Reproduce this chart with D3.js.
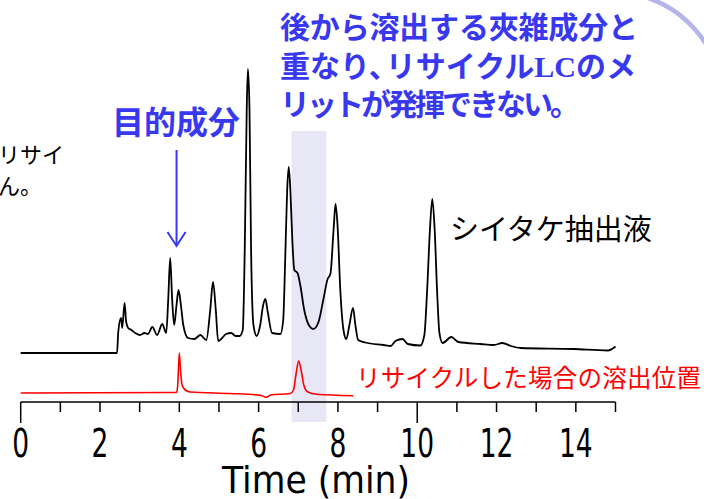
<!DOCTYPE html>
<html>
<head>
<meta charset="utf-8">
<script src="https://cdn.jsdelivr.net/npm/d3@7"></script>
<style>
  body { margin: 0; background: #fff; }
  svg { display: block; }
  .jp { font-family: 'Noto Sans CJK JP', sans-serif; }
  .num { font-family: 'DejaVu Sans', sans-serif; }
</style>
</head>
<body>
<div class="chart"></div>
<script>
// black trace: shiitake extract (time in min, signal in arbitrary units)
const extractTime = [0, 2.43, 2.46, 2.53, 2.56, 2.62, 2.66, 2.71, 2.79, 2.89, 3.01, 3.12, 3.21, 3.32, 3.44, 3.57, 3.67,
  3.72, 3.77, 3.82, 3.87, 3.93, 3.98, 4.04, 4.10, 4.22, 4.38, 4.53, 4.68, 4.78, 4.85, 4.92, 4.98, 5.08, 5.18, 5.31,
  5.42, 5.52, 5.60, 5.65, 5.70, 5.73, 5.77, 5.81, 5.87, 5.95, 6.04, 6.11, 6.17, 6.23, 6.34, 6.55, 6.62, 6.67, 6.72,
  6.76, 6.80, 6.85, 6.90, 6.98, 7.05, 7.15, 7.28, 7.38, 7.51, 7.63, 7.74, 7.81, 7.89, 7.94, 7.99, 8.06, 8.14, 8.21,
  8.29, 8.38, 8.44, 8.51, 8.69, 9.15, 9.33, 9.45, 9.63, 9.76, 10.08, 10.18, 10.25, 10.32, 10.38, 10.44, 10.50, 10.56,
  10.64, 10.86, 11.04, 11.60, 11.93, 12.15, 12.36, 12.61, 13.95, 14.81, 15.0];
const extractSignal = [0, 0, 21, 35, 25, 50, 31, 25, 23, 20, 18, 20, 19, 26, 18, 29, 20,
  53, 95, 53, 28, 48, 63, 48, 28, 15, 14, 18, 13, 43, 71, 43, 12, 15, 19, 20,
  17, 17, 23, 103, 243, 284, 243, 103, 28, 17, 28, 47, 54, 41, 20, 19, 33, 93, 163,
  186, 163, 113, 83, 80, 68, 43, 27, 24, 31, 53, 74, 79, 123, 149, 128, 63, 23, 14,
  28, 45, 28, 13, 10.5, 8, 7, 12, 14, 9, 7.5, 18, 63, 123, 154, 123, 63, 20,
  10, 16, 11, 9, 8, 10, 7, 5, 4, 2.5, 6.5];

// red trace: elution position after recycling
const recycleTime = [0, 3.77, 3.93, 3.96, 4.00, 4.03, 4.07, 4.15, 4.28, 5.28, 5.97, 6.07, 6.19, 6.24, 6.30, 6.80,
  6.88, 6.94, 7.01, 7.08, 7.14, 7.23, 7.47, 8.39];
const recycleSignal = [0, 0.5, 0.5, 8, 40, 23, 8, 3, 1, -0.5, -2, -2.5, -4.3, -3.5, -2, -0.5,
  3, 18, 32, 21, 8, 1.3, -1.3, -2.7];

const overlapRange = [6.83, 7.71];
const tickLabels = [0, 2, 4, 6, 8, 10, 12, 14];
const minorTicks = d3.range(0, 16);
const majorTicks = [0, 10];

const width = 704, height = 499;
const blue = '#3838f0';

const x = d3.scaleLinear().domain([0, 15]).range([20.7, 615.5]);
const y = d3.scaleLinear().domain([0, 300]).range([353, 53]);
const redOffset = -40;

const svg = d3.select('.chart').append('svg')
  .attr('width', width)
  .attr('height', height);

// decorative arc top right
svg.append('path')
  .attr('d', 'M648,-2 Q684,10 706,44')
  .attr('fill', 'none')
  .attr('stroke', '#b5b5e8')
  .attr('stroke-width', 4.5);

// overlap band
svg.append('rect')
  .attr('x', x(overlapRange[0]))
  .attr('width', x(overlapRange[1]) - x(overlapRange[0]))
  .attr('y', 131)
  .attr('height', 291)
  .attr('fill', '#e7e7f6');

// axis
const axis = svg.append('g');
axis.append('line')
  .attr('x1', x(0)).attr('x2', x(15))
  .attr('y1', 402).attr('y2', 402)
  .attr('stroke', '#000').attr('stroke-width', 1.5);
axis.selectAll('.tick')
  .data(minorTicks)
  .enter()
  .append('line')
  .attr('x1', d => x(d)).attr('x2', d => x(d))
  .attr('y1', 402)
  .attr('y2', d => (majorTicks.includes(d) ? 423 : 412))
  .attr('stroke', '#000').attr('stroke-width', 1.5);
axis.selectAll('.lbl')
  .data(tickLabels)
  .enter()
  .append('text')
  .attr('class', 'num')
  .attr('transform', d => `translate(${x(d)},457) scale(0.68,1)`)
  .attr('text-anchor', 'middle')
  .attr('font-size', 39)
  .text(d => d);
axis.append('text')
  .attr('class', 'num')
  .attr('x', 316)
  .attr('y', 493)
  .attr('text-anchor', 'middle')
  .attr('font-size', 38)
  .attr('textLength', 188)
  .attr('lengthAdjust', 'spacingAndGlyphs')
  .text('Time (min)');

// traces
const line = d3.line()
  .x(d => x(d[0]))
  .y(d => y(d[1]))
  .curve(d3.curveMonotoneX);

svg.append('path')
  .datum(extractTime.map((t, i) => [t, extractSignal[i]]))
  .attr('d', line)
  .attr('fill', 'none')
  .attr('stroke', '#000')
  .attr('stroke-width', 1.8);

svg.append('path')
  .datum(recycleTime.map((t, i) => [t, recycleSignal[i] + redOffset]))
  .attr('d', line)
  .attr('fill', 'none')
  .attr('stroke', '#f00')
  .attr('stroke-width', 1.6);

// arrow to target component
svg.append('line')
  .attr('x1', x(3.93)).attr('x2', x(3.93))
  .attr('y1', 150).attr('y2', 245)
  .attr('stroke', blue).attr('stroke-width', 2);
svg.append('path')
  .attr('d', `M${x(3.93) - 9},232 L${x(3.93)},246 L${x(3.93) + 9},232`)
  .attr('fill', 'none')
  .attr('stroke', blue).attr('stroke-width', 2);

// annotations
const note = (txt, px, py, size, color, weight, len) => {
  const t = svg.append('text')
    .attr('class', 'jp')
    .attr('x', px).attr('y', py)
    .attr('font-size', size)
    .attr('font-weight', weight || 'normal')
    .attr('fill', color)
    .text(txt);
  if (len) t.attr('textLength', len).attr('lengthAdjust', 'spacing');
  return t;
};

note('目的成分', 112, 134, 32, blue, 'bold');
note('後から溶出する夾雑成分と', 280, 38, 30, blue, 'bold', 358);
const l2 = note('重なり、', 280, 77, 30, blue, 'bold');
l2.append('tspan').attr('dx', -13).text('リサイクル');
l2.append('tspan').attr('font-family', "'Liberation Serif', serif").text('LC');
l2.append('tspan').text('のメ');
note('リットが発揮できない。', 280, 115, 30, blue, 'bold', 300);
note('シイタケ抽出液', 450, 240, 29, '#000');
note('リサイクルした場合の溶出位置', 356, 387, 24.5, '#f00', 'normal', 345);
note('リサイ', -2, 163, 22, '#000');
note('ん。', -2, 194, 22, '#000');
</script>
</body>
</html>
